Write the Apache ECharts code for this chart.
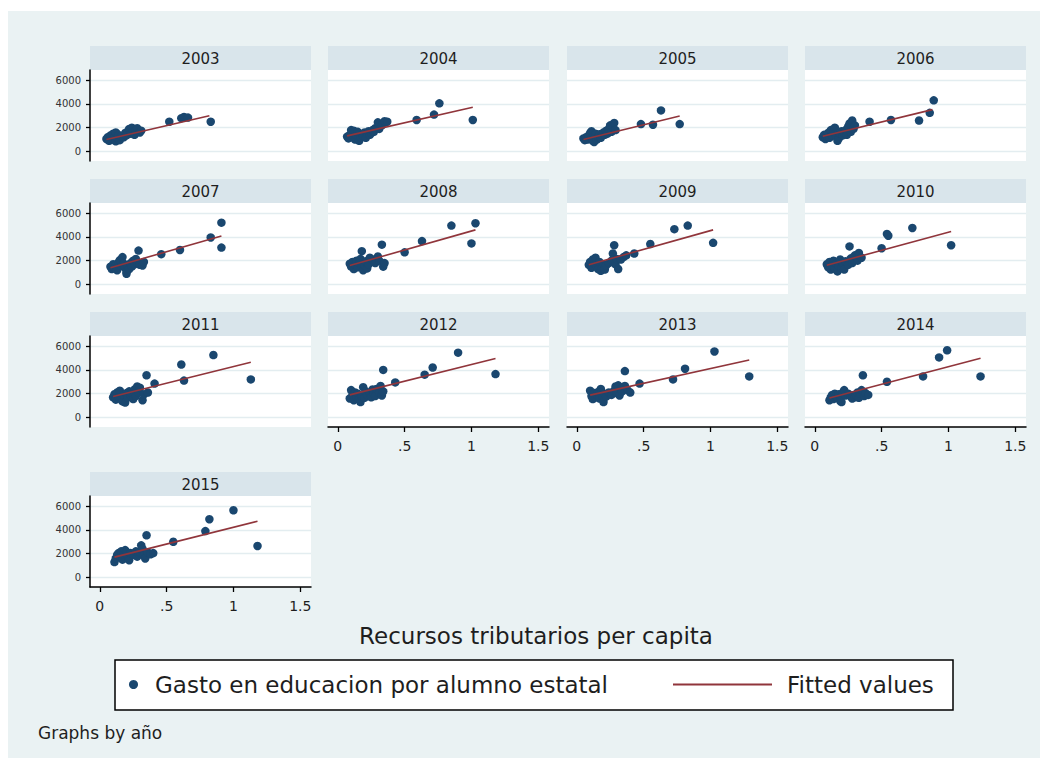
<!DOCTYPE html>
<html><head><meta charset="utf-8">
<script src="https://cdn.jsdelivr.net/npm/echarts@6/dist/echarts.min.js"></script>
<style>html,body{margin:0;padding:0;background:#fff}#c{width:1047px;height:771px}</style>
</head><body><div id="c"></div>
<script>
// ---------- data ----------
const years = ['2003','2004','2005','2006','2007','2008','2009','2010','2011','2012','2013','2014','2015'];
const seriesNames = ['Gasto en educacion por alumno estatal','Fitted values'];
const xTitle = 'Recursos tributarios per capita';
const noteText = 'Graphs by año';
const xTickValues = [0, 0.5, 1, 1.5];
const xTickLabels = ['0', '.5', '1', '1.5'];
const yTickValues = [0, 2000, 4000, 6000];
const yTickLabels = ['0', '2000', '4000', '6000'];

const d2003 = [[0.05,1050],[0.06,1200],[0.07,900],[0.08,1350],[0.09,1100],[0.10,1500],[0.10,1000],[0.11,1250],[0.12,1600],[0.12,850],[0.13,1150],[0.14,1400],[0.15,950],[0.16,1300],[0.18,1200],[0.19,1550],[0.20,1350],[0.21,1700],[0.22,1900],[0.23,1500],[0.24,2000],[0.25,1650],[0.26,1400],[0.27,1800],[0.28,1950],[0.30,1600],[0.31,1750],[0.52,2500],[0.61,2800],[0.63,2900],[0.66,2850],[0.83,2500]];
const d2004 = [[0.07,1250],[0.08,1100],[0.09,1400],[0.10,1800],[0.11,1200],[0.12,1550],[0.12,1750],[0.13,1000],[0.14,1350],[0.15,1650],[0.16,900],[0.17,1200],[0.18,1450],[0.19,1300],[0.20,1600],[0.21,1150],[0.22,1500],[0.23,1700],[0.24,1400],[0.25,1550],[0.26,1800],[0.27,1650],[0.28,1950],[0.30,2450],[0.31,1900],[0.33,2200],[0.35,2550],[0.37,2500],[0.59,2650],[0.72,3100],[0.76,4050],[1.01,2650]];
const d2005 = [[0.05,1100],[0.06,950],[0.07,1200],[0.08,1000],[0.09,1350],[0.10,1550],[0.11,1700],[0.11,1100],[0.12,900],[0.13,800],[0.13,1300],[0.14,1500],[0.15,1000],[0.16,1250],[0.17,1450],[0.18,1150],[0.19,1350],[0.20,1600],[0.21,1400],[0.22,1750],[0.23,1500],[0.24,1900],[0.25,2200],[0.26,1650],[0.27,2050],[0.28,2400],[0.29,1800],[0.48,2300],[0.57,2250],[0.63,3450],[0.77,2300]];
const d2006 = [[0.06,1200],[0.07,1400],[0.08,1050],[0.09,1300],[0.10,1550],[0.11,1150],[0.12,1800],[0.13,1350],[0.14,1600],[0.15,2000],[0.16,1250],[0.17,900],[0.18,1100],[0.19,1500],[0.20,1700],[0.21,1350],[0.22,1550],[0.23,1800],[0.24,1400],[0.25,2100],[0.26,2350],[0.27,1650],[0.28,2600],[0.29,1900],[0.30,2200],[0.41,2500],[0.57,2650],[0.78,2600],[0.86,3250],[0.89,4300]];
const d2007 = [[0.08,1500],[0.09,1300],[0.10,1700],[0.11,1400],[0.12,1650],[0.13,1200],[0.14,1850],[0.15,2050],[0.16,1550],[0.17,2300],[0.18,1750],[0.19,1400],[0.20,1050],[0.20,900],[0.21,1600],[0.22,1300],[0.23,1800],[0.24,1500],[0.25,2000],[0.26,1700],[0.27,2150],[0.28,1850],[0.29,2850],[0.30,1650],[0.32,1600],[0.33,1900],[0.46,2550],[0.60,2900],[0.83,3950],[0.91,5200],[0.91,3100]];
const d2008 = [[0.09,1750],[0.10,1500],[0.11,1900],[0.12,1300],[0.13,1650],[0.14,2000],[0.15,1450],[0.16,1800],[0.17,2150],[0.18,2800],[0.19,1200],[0.20,1600],[0.21,1950],[0.22,1350],[0.23,1700],[0.24,2250],[0.26,2100],[0.28,1800],[0.30,2350],[0.31,2000],[0.33,3350],[0.34,1500],[0.35,1800],[0.50,2700],[0.63,3650],[0.85,4950],[1.00,3450],[1.03,5150]];
const d2009 = [[0.09,1650],[0.10,1900],[0.11,1400],[0.12,2100],[0.13,1750],[0.14,2250],[0.15,1550],[0.16,1300],[0.17,1900],[0.18,1150],[0.19,1450],[0.20,1700],[0.21,1250],[0.22,1600],[0.24,1800],[0.26,2000],[0.27,2600],[0.28,3300],[0.29,1700],[0.30,2150],[0.31,1300],[0.33,2100],[0.35,2300],[0.37,2450],[0.43,2600],[0.55,3400],[0.73,4650],[0.83,4950],[1.02,3500]];
const d2010 = [[0.09,1700],[0.10,1450],[0.11,1900],[0.12,1250],[0.13,1600],[0.14,2000],[0.15,1350],[0.16,1750],[0.17,1100],[0.18,1550],[0.19,2100],[0.20,1400],[0.21,1800],[0.22,1250],[0.23,1950],[0.25,1650],[0.26,3200],[0.27,2200],[0.28,1800],[0.30,2450],[0.32,2000],[0.33,2650],[0.35,2250],[0.50,3050],[0.54,4250],[0.55,4100],[0.73,4750],[1.02,3300]];
const d2011 = [[0.10,1700],[0.11,1950],[0.12,1500],[0.13,2100],[0.14,1750],[0.15,2250],[0.16,1600],[0.17,1350],[0.18,1900],[0.19,1250],[0.20,2050],[0.21,1700],[0.22,2200],[0.23,1850],[0.24,2000],[0.25,1550],[0.26,2350],[0.27,1800],[0.28,2600],[0.29,2100],[0.30,2500],[0.32,1450],[0.33,1950],[0.35,3550],[0.36,2100],[0.41,2850],[0.61,4450],[0.63,3100],[0.85,5250],[1.13,3200]];
const d2012 = [[0.09,1600],[0.10,2300],[0.11,1900],[0.12,1450],[0.13,2100],[0.14,1750],[0.15,2000],[0.16,1550],[0.17,1300],[0.18,1800],[0.19,2550],[0.20,1650],[0.21,2200],[0.22,1900],[0.24,2050],[0.25,1700],[0.26,2350],[0.27,2000],[0.28,1800],[0.29,2400],[0.31,2100],[0.32,2650],[0.33,1850],[0.34,2200],[0.34,4000],[0.43,2950],[0.65,3600],[0.71,4200],[0.90,5450],[1.18,3650]];
const d2013 = [[0.10,2250],[0.11,1800],[0.12,1550],[0.13,2050],[0.14,1700],[0.15,1900],[0.16,2150],[0.17,1600],[0.18,2400],[0.19,1850],[0.20,1300],[0.21,2000],[0.22,1750],[0.24,2100],[0.26,1900],[0.28,2250],[0.29,2600],[0.30,2050],[0.31,2700],[0.32,1850],[0.33,2400],[0.34,2200],[0.36,2650],[0.36,3900],[0.38,2300],[0.40,2100],[0.47,2850],[0.72,3200],[0.81,4100],[1.03,5550],[1.29,3450]];
const d2014 = [[0.11,1450],[0.12,1700],[0.13,1900],[0.14,1550],[0.15,2000],[0.16,1800],[0.17,1650],[0.18,1950],[0.19,1400],[0.20,1300],[0.21,2100],[0.22,2300],[0.23,1850],[0.25,2000],[0.27,1750],[0.28,1600],[0.29,1900],[0.30,1700],[0.31,1850],[0.32,2100],[0.33,1650],[0.34,2000],[0.35,2300],[0.36,3550],[0.37,1800],[0.38,2050],[0.40,1900],[0.54,3000],[0.81,3450],[0.93,5050],[0.99,5650],[1.24,3450]];
const d2015 = [[0.11,1300],[0.12,1600],[0.13,1900],[0.14,2050],[0.15,1750],[0.16,2200],[0.17,1500],[0.18,1950],[0.19,2300],[0.20,2150],[0.21,1800],[0.22,1450],[0.23,2050],[0.25,1900],[0.27,2200],[0.28,1750],[0.29,2000],[0.30,2150],[0.31,2700],[0.32,2400],[0.33,1850],[0.34,1600],[0.35,3550],[0.36,2100],[0.38,1950],[0.40,2050],[0.55,3000],[0.79,3900],[0.82,4900],[1.00,5650],[1.18,2650]];

const f2003 = [[0.05,1000],[0.82,3000]];
const f2004 = [[0.07,1310],[1.01,3720]];
const f2005 = [[0.05,1010],[0.77,2990]];
const f2006 = [[0.06,1280],[0.88,3520]];
const f2007 = [[0.08,1400],[0.91,4080]];
const f2008 = [[0.09,1590],[1.03,4590]];
const f2009 = [[0.09,1660],[1.02,4590]];
const f2010 = [[0.09,1620],[1.02,4450]];
const f2011 = [[0.10,1770],[1.13,4650]];
const f2012 = [[0.09,1900],[1.18,4960]];
const f2013 = [[0.10,1880],[1.29,4830]];
const f2014 = [[0.11,1630],[1.24,4980]];
const f2015 = [[0.11,1710],[1.18,4730]];

const scatterSets = [d2003,d2004,d2005,d2006,d2007,d2008,d2009,d2010,d2011,d2012,d2013,d2014,d2015];
const fitSets = [f2003,f2004,f2005,f2006,f2007,f2008,f2009,f2010,f2011,f2012,f2013,f2014,f2015];

// ---------- layout / style ----------
const FONT = "'DejaVu Sans', sans-serif";
const BG = '#eaf2f3', STRIP = '#d9e5eb', GRIDC = '#e3edf0';
const MARK = '#1a476f', FIT = '#90353b', TXT = '#1e1e1e';
const colLeft = [90, 328, 567, 805];
const plotW = 221, plotH = 91, stripH = 24;
const rowTop = [70, 203, 336, 496];

const grids = [], xAxes = [], yAxes = [], series = [];
const graphics = [
  {type:'rect', shape:{x:8, y:11, width:1032, height:747}, style:{fill:BG}, z:-10, silent:true}
];

years.forEach((yr, i) => {
  const r = Math.floor(i / 4), c = i % 4;
  const L = colLeft[c], T = rowTop[r];
  const showY = c === 0;
  const showX = i >= 9;
  grids.push({left: L, top: T, width: plotW, height: plotH, show: true, backgroundColor: '#fff', borderWidth: 0, containLabel: false});
  graphics.push({type:'rect', shape:{x:L, y:T - stripH, width:plotW, height:stripH}, style:{fill:STRIP}, silent:true, z:-5});
  graphics.push({type:'text', x: L + plotW / 2, y: T - stripH / 2 + 0.5, style:{text: yr, fill: TXT, font: '15px ' + FONT, align:'center', verticalAlign:'middle'}, silent:true});
  xAxes.push({
    gridIndex: i, type: 'value', min: -0.073, max: 1.58, show: showX,
    axisLine: {show: true, onZero: false, lineStyle: {color: '#000', width: 1.5}},
    axisTick: {show: true, length: 5, customValues: xTickValues, lineStyle: {color: '#000', width: 1.3}},
    axisLabel: {show: true, margin: 12, customValues: xTickValues, color: TXT, fontFamily: FONT, fontSize: 14,
      formatter: v => xTickLabels[xTickValues.indexOf(v)]},
    splitLine: {show: false}
  });
  yAxes.push({
    gridIndex: i, type: 'value', min: -800, max: 6850,
    axisLine: {show: showY, onZero: false, lineStyle: {color: '#000', width: 1.5}},
    axisTick: {show: showY, length: 4, customValues: yTickValues, lineStyle: {color: '#000', width: 1.3}},
    axisLabel: {show: showY, margin: 9, customValues: yTickValues, color: '#333', fontFamily: FONT, fontSize: 10,
      formatter: v => yTickLabels[yTickValues.indexOf(v)]},
    splitLine: {show: true, lineStyle: {color: GRIDC, width: 1.3}}
  });
  series.push({
    name: seriesNames[0], type: 'scatter', xAxisIndex: i, yAxisIndex: i,
    data: scatterSets[i], symbol: 'circle', symbolSize: 8.5,
    itemStyle: {color: MARK, opacity: 1}, z: 2, silent: true
  });
  series.push({
    name: seriesNames[1], type: 'line', xAxisIndex: i, yAxisIndex: i,
    data: fitSets[i], symbol: 'none', showSymbol: false, lineStyle: {color: FIT, width: 1.6},
    itemStyle: {color: FIT}, z: 3, silent: true
  });
});

// x-axis title and note
graphics.push({type:'text', x: 536, y: 636, style:{text: xTitle, fill: TXT, font: '23px ' + FONT, align:'center', verticalAlign:'middle'}, silent:true});
graphics.push({type:'text', x: 38, y: 733, style:{text: noteText, fill: TXT, font: '17px ' + FONT, align:'left', verticalAlign:'middle'}, silent:true});
// legend frame
graphics.push({type:'rect', shape:{x:115, y:660, width:838, height:50}, style:{fill:'#fff', stroke:'#000', lineWidth:1.5}, silent:true, z:-4});

const chart = echarts.init(document.getElementById('c'), null, {renderer: 'svg'});
chart.setOption({
  animation: false,
  backgroundColor: '#fff',
  grid: grids,
  xAxis: xAxes,
  yAxis: yAxes,
  series: series,
  graphic: graphics,
  legend: [
    {data: [{name: seriesNames[0], icon: 'circle'}], left: 129, top: 673, padding: 0,
     itemWidth: 9, itemHeight: 9, selectedMode: false,
     textStyle: {fontFamily: FONT, fontSize: 23, color: TXT, padding: [0,0,0,12]}},
    {data: [{name: seriesNames[1], icon: 'rect', itemStyle: {color: FIT}}], left: 673, top: 673, padding: 0,
     itemWidth: 99, itemHeight: 2, selectedMode: false,
     textStyle: {fontFamily: FONT, fontSize: 23, color: TXT, padding: [0,0,0,10]}}
  ]
});
</script></body></html>
